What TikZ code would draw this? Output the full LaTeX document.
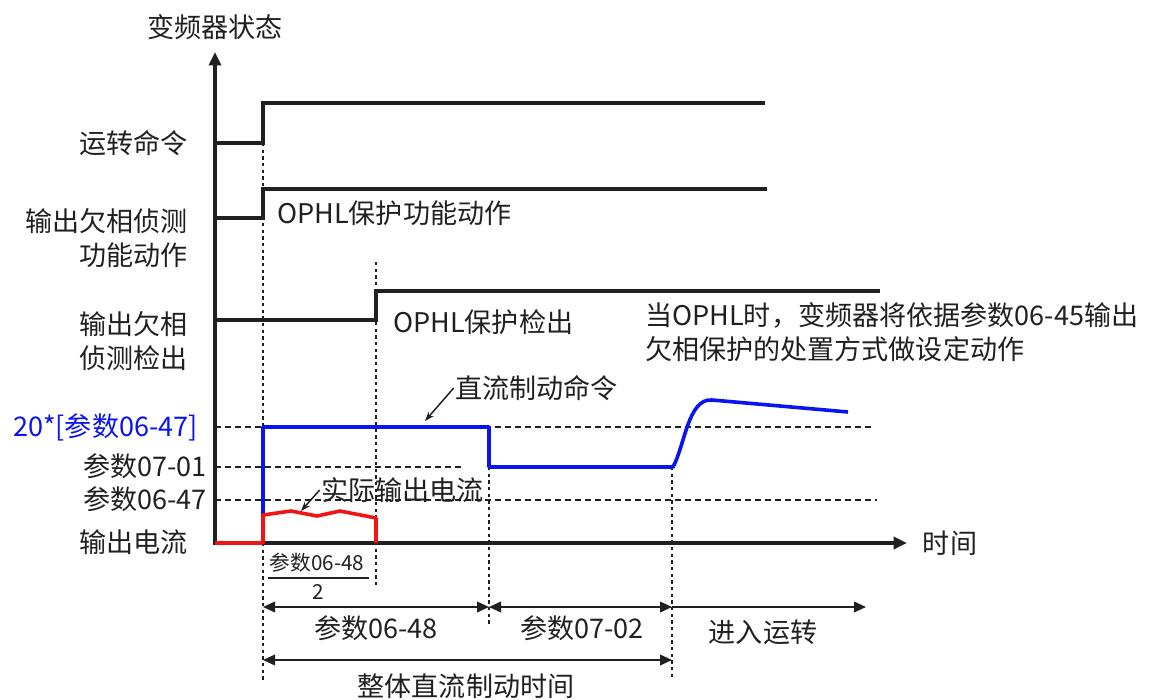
\documentclass[tikz,border=0pt]{standalone}
\usepackage{fontspec}
\setmainfont{Noto Sans CJK SC}
\usetikzlibrary{arrows.meta,positioning,calc}
\definecolor{ink}{HTML}{231F20}
\definecolor{dcblue}{HTML}{0A14F0}
\definecolor{curred}{HTML}{F01414}

\tikzset{
    sig/.style={line width=2.5pt, draw=ink},
    axis/.style={line width=2.6pt, draw=ink, -{Triangle[length=10pt,width=9pt]}},
    hdash/.style={line width=1.5pt, draw=ink, dash pattern=on 4.5pt off 3pt},
    vdot/.style={line width=1.5pt, draw=ink, dash pattern=on 2.5pt off 2.5pt},
    dim/.style={line width=1.2pt, draw=ink, -{Triangle[length=9pt,width=8pt]}},
    dimboth/.style={dim, {Triangle[length=9pt,width=8pt]}-{Triangle[length=9pt,width=8pt]}},
    pointer/.style={line width=1.1pt, draw=ink, -{Stealth[length=7pt,width=5pt]}},
    lbl/.style={inner sep=0pt, text=ink},
}

\begin{document}
\begin{tikzpicture}[x=0.75pt, y=-0.75pt, font=\fontsize{20.3}{26}\selectfont]
    \useasboundingbox (0,0) rectangle (1155,699);

    % Reference levels
    \foreach \y/\xe in {427/875, 467/465, 500/877} {
        \draw[hdash] (215,\y) -- (\xe,\y);
    }

    % Time markers
    \foreach \x/\ya/\yb in {263/143/680, 376/262/585, 489/427/625, 672/467/680} {
        \draw[vdot] (\x,\ya) -- (\x,\yb);
    }

    % Axes
    \draw[axis] (215,545) -- (215,52);
    \draw[axis] (213,543) -- (907,543);
    \node[lbl] (yaxis) at (215,27) {变频器状态};
    \node[lbl] (xaxis) at (950,543) {时间};

    % Run command
    \draw[sig] (215,143) -- (263,143) -- (263,103) -- (765,103);
    \node[lbl, anchor=east] (run) at (188,143) {运转命令};

    % Phase loss detection function
    \draw[sig] (215,218) -- (263,218) -- (263,189) -- (767,189);
    \node[lbl, anchor=east, align=right] (func) at (188,238) {输出欠相侦测\\功能动作};
    \node[lbl, anchor=west] (funcon) at (277,213) {OPHL保护功能动作};

    % Phase loss detected
    \draw[sig] (215,320) -- (376,320) -- (376,291) -- (880,291);
    \node[lbl, anchor=east, align=right] (det) at (188,341) {输出欠相\\侦测检出};
    \node[lbl, anchor=west] (deton) at (393,322) {OPHL保护检出};
    \node[lbl, anchor=west, align=left] (note) at (645,332) {当OPHL时，变频器将依据参数06-45输出\\欠相保护的处置方式做设定动作};

    % Level labels
    \node[lbl, anchor=east, text=dcblue] (lvla) at (198,427) {20*[参数06-47]};
    \node[lbl, anchor=east] (lvlb) at (207,466) {参数07-01};
    \node[lbl, anchor=east] (lvlc) at (207,499) {参数06-47};
    \node[lbl, anchor=east] (iout) at (188,542) {输出电流};

    % DC braking command
    \draw[line width=2.7pt, dcblue, line join=round]
        (263,515) -- (263,427) -- (489,427) -- (489,467) -- (673,467)
        .. controls (685,445) and (688,398) .. (712,400) -- (848,412);
    \node[lbl, anchor=west] (dccmd) at (455,388) {直流制动命令};
    \coordinate (dctip) at (425,421);
    \draw[pointer] ([xshift=-1pt]dccmd.west) -- (dctip);

    % Actual output current
    \draw[line width=2.7pt, curred, line join=round]
        (215,543) -- (263,543) -- (263,515) -- (291,511) -- (317,516) -- (340,511) -- (376,518) -- (376,543);
    \node[lbl, anchor=west] (actual) at (321,490) {实际输出电流};
    \coordinate (actip) at (301,511);
    \draw[pointer] ([xshift=-1pt]actual.west) -- (actip);

    % Half of 06-48
    \node[lbl, font=\fontsize{15.5}{18}\selectfont] (num) at (317,563) {参数06-48};
    \coordinate (barl) at (268,578);
    \coordinate (barr) at (369,578);
    \draw[line width=1.2pt, ink] (barl) -- (barr);
    \node[lbl, font=\fontsize{15.5}{18}\selectfont] (den) at (318,592) {2};

    % Intervals
    \coordinate (a0) at (263,607);
    \coordinate (a1) at (489,607);
    \coordinate (a2) at (672,607);
    \coordinate (a3) at (866,607);
    \coordinate (b0) at (263,660);
    \coordinate (b1) at (672,660);
    \draw[dimboth] (a0) -- (a1);
    \draw[dimboth] (a1) -- (a2);
    \draw[dim] (a2) -- (a3);
    \draw[dimboth] (b0) -- (b1);
    \node[lbl] (ta) at (376,628) {参数06-48};
    \node[lbl] (tb) at (582,628) {参数07-02};
    \node[lbl] (tc) at (763,632) {进入运转};
    \node[lbl] (tt) at (466,686) {整体直流制动时间};
\end{tikzpicture}
\end{document}
